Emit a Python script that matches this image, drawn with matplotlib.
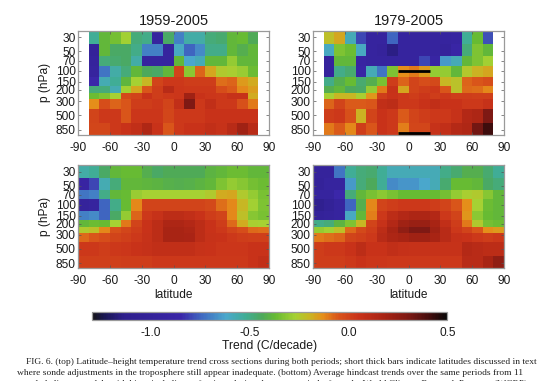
import matplotlib
matplotlib.use("Agg")
import matplotlib.pyplot as plt
from matplotlib.colors import LinearSegmentedColormap, Normalize
from matplotlib.cm import ScalarMappable

plt.rcParams['font.family'] = ['Liberation Sans', 'DejaVu Sans']
W, H = 550, 381

pressure_edges = [23.6, 38.6, 59, 83, 124, 174, 225, 280, 396, 650, 1020]
pressure_ticks = [30, 50, 70, 100, 150, 200, 300, 500, 850]
lat_ticks = [-90, -60, -30, 0, 30, 60, 90]
lat_edges_obs = list(range(-80, 81, 10))
lat_edges_model = list(range(-90, 91, 10))

obs_1959 = [
 [-.52,-.38,-.35,-.28,-.48,-.50,-.95,-.45,-.70,-.55,-.55,-.48,-.47,-.38,-.37,-.43],
 [-1.0,-.38,-.45,-.45,-.50,-.70,-.70,-.95,-.60,-.75,-.68,-.50,-.50,-.38,-.42,-.38],
 [-.97,-.48,-.47,-.45,-.55,-.95,-.95,-.95,-.38,-.62,-.58,-.38,-.38,-.30,-.38,-.38],
 [-.95,-.72,-.55,-.48,-.38,-.44,-.45,-.38,-.00,-.31,-.07,-.17,-.25,-.26,-.29,-.36],
 [-.85,-.57,-.52,-.39,-.27,-.20,-.00,.03,.03,.02,.02,.02,-.09,-.07,-.15,-.18],
 [-.48,-.48,-.57,-.28,-.17,-.05,.02,.12,.04,.03,.03,.03,-.03,-.06,-.12,-.16],
 [-.36,-.33,-.27,-.02,.00,.05,.02,.03,.04,.20,.05,.04,.03,.06,.06,-.18],
 [-.13,-.03,-.07,-.05,.02,.02,.03,.00,.08,.30,.03,.08,.03,.03,-.04,-.10],
 [.00,.03,.03,-.05,.04,.04,.04,-.01,.03,.03,.03,.05,.05,.05,.05,.05],
 [-.01,-.01,.03,.05,.08,.15,.05,-.05,.03,.05,.05,.08,.06,.12,.20,.12],
]
obs_1979 = [
 [-.22,-.17,-.58,-.80,-.95,-.95,-.75,-.95,-.95,-.95,-.95,-.95,-.93,-.52,-.37,-.78],
 [-.60,-.33,-.36,-.60,-.95,-.98,-1.15,-.95,-.95,-.95,-.95,-.98,-.88,-.48,-.33,-.38],
 [-.97,-.38,-.38,-.92,-.95,-.95,-.95,-.95,-.95,-.80,-.90,-.65,-.58,-.38,-.33,-.28],
 [-.97,-.50,-.47,-.88,-.58,-.72,-.33,-.13,-.10,-.15,-.30,-.30,-.38,-.24,-.19,-.17],
 [-.50,-.42,-.37,-.47,-.42,-.34,.02,-.07,.00,-.03,-.02,-.20,-.23,-.07,-.05,-.03],
 [-.42,-.38,-.44,-.45,-.30,-.10,.06,-.17,.00,.02,.03,-.05,-.23,-.08,-.09,-.12],
 [-.27,-.20,-.20,-.26,-.14,.02,.05,.03,.02,.04,.02,.03,.02,.02,.01,.01],
 [-.07,.00,-.06,-.06,-.05,.08,.10,.03,.03,.05,.08,.05,.05,.03,.03,.06],
 [.02,.03,-.04,-.19,.00,.05,.03,-.06,.00,.02,.03,.03,.06,.14,.16,.30],
 [-.10,-.06,-.12,.02,-.05,.05,.03,-.11,-.01,-.01,.06,.08,.13,.15,.32,.42],
]
model_1959 = [
 [-.55,-.52,-.45,-.38,-.37,-.37,-.42,-.45,-.43,-.43,-.43,-.43,-.40,-.38,-.36,-.36,-.38,-.38],
 [-.92,-.80,-.57,-.48,-.38,-.38,-.39,-.40,-.41,-.42,-.41,-.40,-.38,-.33,-.30,-.32,-.35,-.36],
 [-.72,-.70,-.50,-.38,-.37,-.29,-.27,-.27,-.27,-.27,-.27,-.27,-.25,-.18,-.17,-.25,-.30,-.34],
 [-.98,-.95,-.75,-.50,-.37,-.12,.00,.00,.00,.00,.00,.00,-.02,-.09,-.12,-.20,-.28,-.33],
 [-.70,-.68,-.75,-.45,-.30,-.07,.03,.06,.10,.10,.08,.05,.02,.00,-.12,-.22,-.32,-.34],
 [-.38,-.36,-.37,-.27,-.10,.00,.05,.10,.16,.16,.14,.10,.05,.02,-.08,-.18,-.26,-.27],
 [-.25,-.22,-.12,-.04,-.01,.02,.05,.10,.18,.18,.16,.10,.05,.03,.00,-.03,-.08,-.09],
 [-.08,-.05,-.03,.00,.01,.03,.06,.10,.18,.18,.17,.10,.06,.05,.03,.02,.01,.01],
 [.03,.03,.02,.03,.04,.05,.07,.08,.08,.08,.08,.06,.05,.04,.04,.04,.05,.05],
 [.01,.01,.01,.01,.02,.02,.02,.03,.03,.03,.03,.03,.03,.03,.03,.03,.05,.08],
]
model_1979 = [
 [-.98,-.98,-.72,-.52,-.48,-.47,-.52,-.58,-.58,-.58,-.58,-.58,-.50,-.47,-.42,-.42,-.47,-.52],
 [-1.0,-.95,-.95,-.65,-.48,-.44,-.52,-.68,-.66,-.66,-.62,-.58,-.47,-.37,-.37,-.38,-.45,-.48],
 [-.95,-.95,-.85,-.48,-.38,-.34,-.31,-.34,-.37,-.37,-.37,-.37,-.35,-.30,-.26,-.25,-.32,-.38],
 [-1.1,-1.02,-.95,-.75,-.42,-.12,.00,.02,.03,.03,.03,.02,.00,-.05,-.13,-.27,-.36,-.38],
 [-1.0,-.98,-.95,-.60,-.38,-.11,.03,.10,.14,.16,.16,.14,.03,.00,-.14,-.31,-.37,-.38],
 [-.50,-.48,-.40,-.33,-.20,.00,.06,.14,.20,.22,.22,.18,.08,.02,-.10,-.25,-.35,-.36],
 [-.30,-.28,-.22,-.08,-.02,.02,.10,.18,.25,.30,.30,.20,.12,.03,.00,-.05,-.13,-.15],
 [-.10,-.09,-.07,.00,.01,.03,.12,.16,.18,.20,.20,.18,.12,.07,.05,.03,.02,.03],
 [.02,.03,.03,.05,.10,.05,.05,.08,.07,.06,.06,.06,.06,.06,.13,.12,.10,.10],
 [.02,.02,.02,.03,.05,.04,.04,.03,.03,.03,.03,.03,.03,.03,.12,.12,.18,.25],
]
bar_lats = [-10, 20]
bar_pressures = [100, 934]
titles = ["1959-2005", "1979-2005"]
cbar_ticks = [-1.0, -0.5, 0.0, 0.5]
caption = [
 "FIG. 6. (top) Latitude\u2013height temperature trend cross sections during both periods; short thick bars indicate latitudes discussed in text",
 "where sonde adjustments in the troposphere still appear inadequate. (bottom) Average hindcast trends over the same periods from 11",
 "coupled climate models with historical climate forcings during the same periods, from the World Climate Research Program (WCRP)",
]

vmin, vmax = -1.3, 0.5
anchors = [
 (-1.30, (.08,.08,.08)), (-1.24, (.10,.09,.32)), (-1.14, (.18,.12,.55)),
 (-0.85, (.23,.15,.66)), (-0.74, (.25,.42,.76)), (-0.62, (.29,.66,.80)),
 (-0.52, (.25,.68,.58)), (-0.44, (.30,.66,.36)), (-0.37, (.40,.73,.20)),
 (-0.27, (.65,.82,.20)), (-0.20, (.78,.72,.14)), (-0.13, (.90,.56,.10)),
 (-0.05, (.85,.33,.10)), (0.05, (.79,.20,.10)), (0.18, (.66,.14,.08)),
 (0.30, (.50,.10,.08)), (0.42, (.25,.05,.05)), (0.50, (.03,.03,.03)),
]
cmap = LinearSegmentedColormap.from_list(
    "trend", [((v - vmin) / (vmax - vmin), c) for v, c in anchors], N=256)
norm = Normalize(vmin, vmax)

FS = 8.6
TC = '#1a1a1a'
GRAY = '#9a9a9a'

fig = plt.figure(figsize=(W / 100, H / 100), dpi=100, facecolor='white')

def make_ax(x0, x1, y0, y1):
    return fig.add_axes([x0 / W, 1 - y1 / H, (x1 - x0) / W, (y1 - y0) / H])

panels = [
 (make_ax(78.3, 269, 30.7, 135), lat_edges_obs, obs_1959),
 (make_ax(313.3, 504, 30.7, 135), lat_edges_obs, obs_1979),
 (make_ax(78.3, 269, 165, 268.3), lat_edges_model, model_1959),
 (make_ax(313.3, 504, 165, 268.3), lat_edges_model, model_1979),
]
for i, (ax, lats, vals) in enumerate(panels):
    ax.pcolormesh(lats, pressure_edges, vals, cmap=cmap, norm=norm, shading='flat')
    ax.set_yscale('log')
    ax.set_xlim(-90, 90)
    ax.set_ylim(pressure_edges[-1], pressure_edges[0])
    ax.set_xticks(lat_ticks)
    ax.set_xticklabels([str(t) for t in lat_ticks], fontsize=FS, color=TC)
    ax.set_yticks(pressure_ticks)
    ax.set_yticklabels([str(t) for t in pressure_ticks], fontsize=FS, color=TC)
    ax.minorticks_off()
    ax.tick_params(axis='both', direction='in', length=2, width=0.5, color='#555555',
                   top=True, right=True)
    ax.tick_params(axis='y', pad=2)
    ax.tick_params(axis='x', pad=5)
    for s in ax.spines.values():
        s.set_color(GRAY)
        s.set_linewidth(0.9)
    if i < 2:
        ax.set_title(titles[i], fontsize=10.5, color=TC, pad=4)
    if i in (0, 2):
        ax.set_ylabel('p (hPa)', fontsize=FS, color=TC, labelpad=3.5)
    if i >= 2:
        ax.set_xlabel('latitude', fontsize=FS, color=TC, labelpad=1)

ax2 = panels[1][0]
for p in bar_pressures:
    ax2.plot(bar_lats, [p, p], color='black', lw=2.0, solid_capstyle='butt', zorder=5)

cax = make_ax(91.7, 447.3, 312.3, 319.7)
cb = fig.colorbar(ScalarMappable(norm=norm, cmap=cmap), cax=cax, orientation='horizontal')
cb.set_ticks(cbar_ticks)
cb.set_ticklabels([f"{t:.1f}" for t in cbar_ticks])
cax.tick_params(axis='x', length=0, pad=5, labelsize=FS, labelcolor=TC)
cb.outline.set_edgecolor(GRAY)
cb.outline.set_linewidth(0.9)
cb.set_label('Trend (C/decade)', fontsize=8.7, color=TC, labelpad=1)

xs = [26, 17, 17]
ys = [362, 373, 384]
for x, y, line in zip(xs, ys, caption):
    fig.text(x / W, 1 - y / H, line, family='Liberation Serif', fontsize=6.8,
             color='#222222', va='center', ha='left')

fig.savefig('out.png', dpi=100, facecolor='white')
